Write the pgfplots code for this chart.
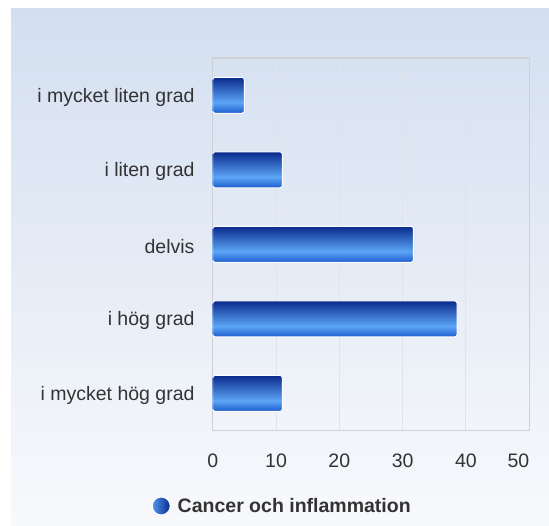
\documentclass[border=0pt]{standalone}
\usepackage{fontspec}
\setmainfont{Liberation Sans}
\usepackage{pgfplots}
\pgfplotsset{compat=1.18}
\definecolor{bgtop}{RGB}{211,223,240}
\definecolor{bgbot}{RGB}{248,249,252}
\definecolor{bartop}{RGB}{10,42,140}
\definecolor{barlight}{RGB}{92,165,246}
\definecolor{barbot}{RGB}{28,92,205}
\definecolor{gridc}{RGB}{224,227,232}
\definecolor{axc}{RGB}{205,208,213}
\definecolor{txt}{RGB}{51,51,51}
\pgfdeclareverticalshading{barshade}{100bp}{color(0bp)=(barbot); color(25bp)=(barbot); color(40bp)=(barlight); color(75bp)=(bartop); color(100bp)=(bartop)}
\pgfplotsset{
  mybar/.style={xbar, bar width=36pt, bar shift=0pt, shading=barshade, draw=white, line width=1pt, rounded corners=2.5pt}
}
\begin{document}
\begin{tikzpicture}
\fill[white] (0,0) rectangle (549pt,525pt);
\shade[top color=bgtop, bottom color=bgbot] (11pt,0pt) rectangle (549pt,516pt);
\begin{axis}[
  at={(212.7pt,94.3pt)}, anchor=south west,
  scale only axis, width=316.6pt, height=372.7pt,
  xmin=0, xmax=50, ymin=-0.5, ymax=4.5,
  xtick={0,10,20,30,40,50},
  xticklabels={0,10,20,30,40,\makebox[0pt][r]{50}},
  ytick={0,1,2,3,4},
  yticklabels={i mycket hög grad, i hög grad, delvis, i liten grad, i mycket liten grad},
  major tick length=0pt,
  xmajorgrids,
  grid style={gridc, line width=1pt},
  axis line style={axc, line width=1.2pt},
  /pgf/number format/assume math mode=true,
  tick label style={font=\fontsize{19.5}{23}\selectfont, text=txt},
  xticklabel style={inner sep=0pt, anchor=north, yshift=-23pt},
  yticklabel style={inner sep=0pt, anchor=east, xshift=-18pt, yshift=-2pt},
  legend style={at={(0.2196,-0.202)}, anchor=center, draw=none, fill=none,
    font=\bfseries\fontsize{19.5}{23}\selectfont, text=txt},
  legend image code/.code={\shade[left color=barlight!80!barbot, right color=bartop] (9pt,0pt) circle (9pt); \path (23pt,0pt);},
]
\addplot[mybar] coordinates {(11,0)};
\addlegendentry{Cancer och inflammation}
\addplot[mybar, forget plot] coordinates {(38.6,1)};
\addplot[mybar, forget plot] coordinates {(31.7,2)};
\addplot[mybar, forget plot] coordinates {(11,3)};
\addplot[mybar, forget plot] coordinates {(5,4)};
\end{axis}
\pgfresetboundingbox
\path[use as bounding box] (0,0) rectangle (549pt,525pt);
\end{tikzpicture}
\end{document}
